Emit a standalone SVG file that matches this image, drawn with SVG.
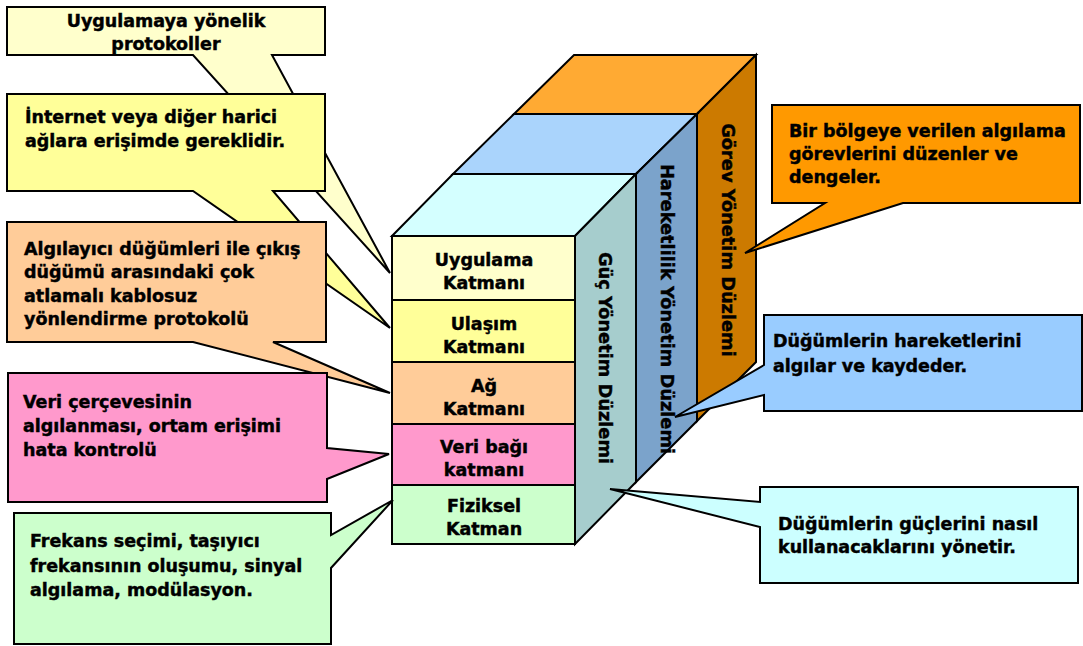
<svg xmlns="http://www.w3.org/2000/svg" width="1083" height="646" viewBox="0 0 1083 646">
  <style>
    .edge { stroke: #000; stroke-width: 2; stroke-linejoin: miter; }
    .t { font-family: "DejaVu Sans", Verdana, sans-serif; font-weight: bold; font-size: 17.5px; fill: #000; stroke: #000; stroke-width: 0.45; }
    .c { text-anchor: middle; }
    .v { text-anchor: middle; dominant-baseline: central; font-size: 17.8px; }
  </style>
  <rect width="1083" height="646" fill="#fff"/>

  <!-- Management planes (back to front) -->
  <g id="gorev-plane">
    <polygon class="edge" fill="#FFAA33" points="514,114 574,55 756,55 697,114"/>
    <polygon class="edge" fill="#CC7A00" points="697,114 756,55 756,362 697,421"/>
    <text class="t v" transform="translate(728,240) rotate(90)">Görev Yönetim Düzlemi</text>
  </g>
  <g id="hareketlilik-plane">
    <polygon class="edge" fill="#AAD4FC" points="453,174 514,114 697,114 636,174"/>
    <polygon class="edge" fill="#7BA3CB" points="636,174 697,114 697,421 636,482"/>
    <text class="t v" transform="translate(667,309) rotate(90)">Hareketlilik Yönetim Düzlemi</text>
  </g>
  <g id="guc-plane">
    <polygon class="edge" fill="#D4FFFF" points="392,236 453,174 636,174 575,236"/>
    <polygon class="edge" fill="#A6CDCD" points="575,236 636,174 636,482 575,544"/>
    <text class="t v" transform="translate(605,358) rotate(90)">Güç Yönetim Düzlemi</text>
  </g>

  <!-- Protocol layers on the front face -->
  <g id="uygulama-katmani">
    <rect class="edge" fill="#FFFFCC" x="392" y="236" width="183" height="64"/>
    <text class="t c" x="484" y="266">Uygulama</text>
    <text class="t c" x="484" y="289">Katmanı</text>
  </g>
  <g id="ulasim-katmani">
    <rect class="edge" fill="#FFFF99" x="392" y="300" width="183" height="62"/>
    <text class="t c" x="484" y="330">Ulaşım</text>
    <text class="t c" x="484" y="353">Katmanı</text>
  </g>
  <g id="ag-katmani">
    <rect class="edge" fill="#FFCC99" x="392" y="362" width="183" height="62"/>
    <text class="t c" x="484" y="392">Ağ</text>
    <text class="t c" x="484" y="415">Katmanı</text>
  </g>
  <g id="veri-bagi-katmani">
    <rect class="edge" fill="#FF99CC" x="392" y="424" width="183" height="61"/>
    <text class="t c" x="484" y="453">Veri bağı</text>
    <text class="t c" x="484" y="476">katmanı</text>
  </g>
  <g id="fiziksel-katman">
    <rect class="edge" fill="#CCFFCC" x="392" y="485" width="183" height="59"/>
    <text class="t c" x="484" y="512">Fiziksel</text>
    <text class="t c" x="484" y="535">Katman</text>
  </g>

  <!-- Callouts; each tail points at its layer or plane -->
  <g id="connectors">
    <g id="callout-uygulama">
      <path class="edge" fill="#FFFFCC" d="M7,7 H325 V55 H272 L390,273 L193,55 H7 Z"/>
      <text class="t c" x="166" y="27">Uygulamaya yönelik</text>
      <text class="t c" x="166" y="50">protokoller</text>
    </g>
    <g id="callout-ulasim">
      <path class="edge" fill="#FFFF99" d="M7,94 H325 V191 H273 L390,328 L193,191 H7 Z"/>
      <text class="t" x="25" y="123">İnternet veya diğer harici</text>
      <text class="t" x="25" y="147">ağlara erişimde gereklidir.</text>
    </g>
    <g id="callout-ag">
      <path class="edge" fill="#FFCC99" d="M7,222 H326 V342 H273 L390,393 L193,342 H7 Z"/>
      <text class="t" x="24" y="255">Algılayıcı düğümleri ile çıkış</text>
      <text class="t" x="24" y="278">düğümü arasındaki çok</text>
      <text class="t" x="24" y="302">atlamalı kablosuz</text>
      <text class="t" x="24" y="325">yönlendirme protokolü</text>
    </g>
    <g id="callout-veri-bagi">
      <path class="edge" fill="#FF99CC" d="M8,373 H327 V448 L389,454 L327,479 V502 H8 Z"/>
      <text class="t" x="23" y="408">Veri çerçevesinin</text>
      <text class="t" x="23" y="432">algılanması, ortam erişimi</text>
      <text class="t" x="23" y="456">hata kontrolü</text>
    </g>
    <g id="callout-fiziksel">
      <path class="edge" fill="#CCFFCC" d="M14,513 H331 V535 L393,500 L331,568 V644 H14 Z"/>
      <text class="t" x="30" y="547">Frekans seçimi, taşıyıcı</text>
      <text class="t" x="30" y="572">frekansının oluşumu, sinyal</text>
      <text class="t" x="30" y="596">algılama, modülasyon.</text>
    </g>
    <g id="callout-gorev">
      <path class="edge" fill="#FF9900" d="M772,105 H1080 V203 H903 L745,253 L825,203 H772 Z"/>
      <text class="t" x="789" y="137">Bir bölgeye verilen algılama</text>
      <text class="t" x="789" y="160">görevlerini düzenler ve</text>
      <text class="t" x="789" y="183">dengeler.</text>
    </g>
    <g id="callout-hareketlilik">
      <path class="edge" fill="#99CCFF" d="M764,315 H1082 V411 H764 V395 L675,417 L764,365 Z"/>
      <text class="t" x="773" y="347">Düğümlerin hareketlerini</text>
      <text class="t" x="773" y="372">algılar ve kaydeder.</text>
    </g>
    <g id="callout-guc">
      <path class="edge" fill="#CCFFFF" d="M760,487 H1078 V583 H760 V527 L610,489 L760,502 Z"/>
      <text class="t" x="778" y="530">Düğümlerin güçlerini nasıl</text>
      <text class="t" x="778" y="553">kullanacaklarını yönetir.</text>
    </g>
  </g>
</svg>
